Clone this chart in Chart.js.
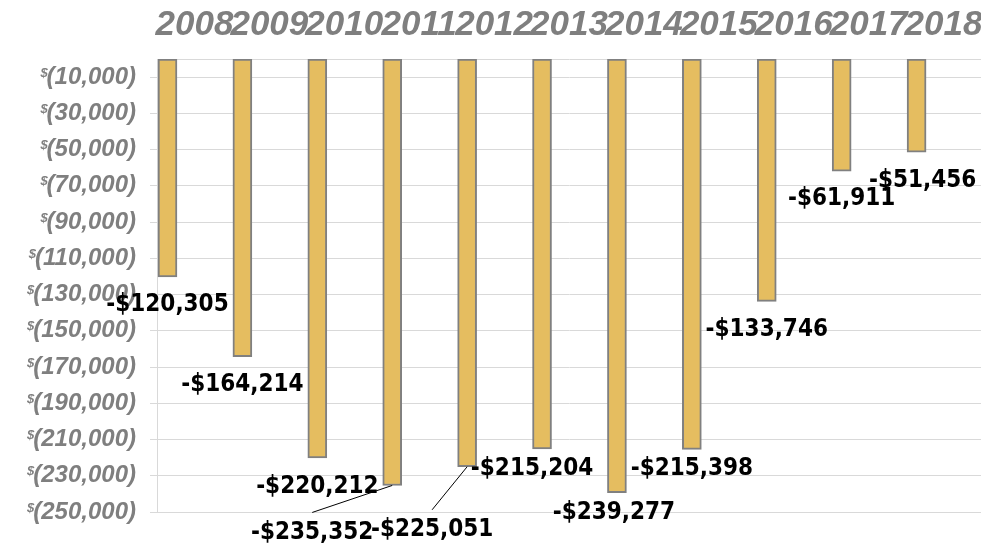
<!DOCTYPE html>
<html>
<head>
<meta charset="utf-8">
<script src="https://cdn.jsdelivr.net/npm/chart.js@4/dist/chart.umd.min.js"></script>
<style>
  html, body { margin: 0; padding: 0; background: #fff; }
  #wrap { width: 981px; height: 547px; position: relative; }
</style>
</head>
<body>
<div id="wrap"><canvas id="chart"></canvas></div>
<script>
const years = ['2008', '2009', '2010', '2011', '2012', '2013', '2014', '2015', '2016', '2017', '2018'];
const netValues = [-120305, -164214, -220212, -235352, -225051, -215204, -239277, -215398, -133746, -61911, -51456];
const yTicks = [-10000, -30000, -50000, -70000, -90000, -110000, -130000, -150000,
                -170000, -190000, -210000, -230000, -250000];

// label nudges (px) from the bar end, Excel moved a few by hand
const labelShift = [
  [0, 28], [0, 28], [0, 29], [-80, 47], [-35, 63], [-10, 20],
  [-3, 20], [0, 19], [0, 28], [0, 28], [6, 29]
];
const leaderLines = [false, false, false, true, true, false, false, false, false, false, false];

const grey = '#7f7f7f';
const gridGrey = '#d9d9d9';
const tickFont = { family: 'Liberation Sans', style: 'italic', weight: 'bold', size: 24 };

function money(v) {
  return '-$' + Math.abs(v).toLocaleString('en-US');
}

function paren(v) {
  return '(' + Math.abs(v).toLocaleString('en-US') + ')';
}

// Data labels with leader lines
const valueLabels = {
  id: 'valueLabels',
  afterDatasetsDraw(chart) {
    const ctx = chart.ctx;
    const meta = chart.getDatasetMeta(0);
    ctx.save();
    ctx.font = 'bold 24px "DejaVu Sans Condensed", "DejaVu Sans"';
    ctx.fillStyle = '#000';
    ctx.textAlign = 'center';
    ctx.textBaseline = 'middle';
    meta.data.forEach((bar, i) => {
      const lx = bar.x + labelShift[i][0];
      const ly = bar.y + labelShift[i][1];
      if (leaderLines[i]) {
        ctx.beginPath();
        ctx.strokeStyle = '#000';
        ctx.lineWidth = 1;
        ctx.moveTo(bar.x, bar.y);
        ctx.lineTo(lx, ly - 20);
        ctx.stroke();
      }
      ctx.fillText(money(netValues[i]), lx, ly);
    });
    ctx.restore();
  }
};

// small raised $ in front of the y tick labels (accounting format look)
const smallDollar = {
  id: 'smallDollar',
  afterDraw(chart) {
    const ctx = chart.ctx;
    const ys = chart.scales.y;
    const right = ys.right - ys.options.grid.tickLength - ys.options.ticks.padding;
    ctx.save();
    ctx.font = 'italic bold 24px "Liberation Sans"';
    const widths = yTicks.map(v => ctx.measureText(paren(v)).width);
    ctx.font = 'italic bold 13px "Liberation Sans"';
    ctx.fillStyle = grey;
    ctx.textAlign = 'right';
    ctx.textBaseline = 'middle';
    yTicks.forEach((v, i) => {
      const y = ys.getPixelForValue(v);
      ctx.fillText('$', right - widths[i] + 1, y - 4);
    });
    ctx.restore();
  }
};

const chart = new Chart(document.getElementById('chart'), {
  type: 'bar',
  data: {
    labels: years,
    datasets: [{
      label: 'Net',
      data: netValues.map((v, i) => ({x: i, y: v})),
      xAxisID: 'xb',
      yAxisID: 'y',
      backgroundColor: '#e5bd60',
      borderColor: '#808080',
      borderWidth: 2,
      borderSkipped: false,
      barThickness: 19
    }]
  },
  options: {
    responsive: true,
    maintainAspectRatio: false,
    animation: false,
    layout: { padding: { top: 0, right: 0, bottom: 35, left: 0 } },
    plugins: {
      legend: { display: false },
      tooltip: { enabled: false }
    },
    scales: {
      x: {
        type: 'category',
        position: 'top',
        offset: true,
        grid: { display: false },
        border: { display: true, color: gridGrey },
        ticks: {
          color: grey,
          padding: 5,
          maxRotation: 0,
          autoSkip: false,
          font: { family: 'Liberation Sans', style: 'italic', weight: 'bold', size: 35 }
        },
        afterFit(scale) {
          scale.height = 59;
          scale.paddingLeft = 0;
          scale.paddingRight = 0;
        }
      },
      xb: {
        type: 'linear',
        display: false,
        offset: false,
        min: -0.14,
        max: 10.86
      },
      y: {
        type: 'linear',
        position: 'left',
        min: -250000,
        max: 0,
        grid: { color: gridGrey, tickLength: 7, tickColor: gridGrey },
        border: { display: true, color: gridGrey },
        ticks: {
          color: grey,
          padding: 14,
          font: tickFont,
          callback: v => paren(v)
        },
        afterBuildTicks(scale) {
          scale.ticks = yTicks.map(v => ({value: v}));
        },
        afterFit(scale) {
          scale.width = 157;
          scale.paddingTop = 0;
          scale.paddingBottom = 0;
        }
      }
    }
  },
  plugins: [valueLabels, smallDollar]
});
</script>
</body>
</html>
